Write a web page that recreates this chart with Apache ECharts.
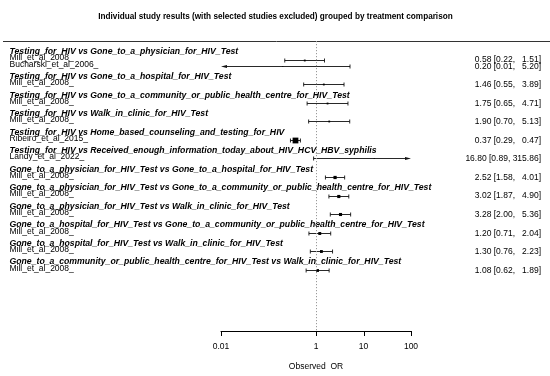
<!DOCTYPE html>
<html><head><meta charset="utf-8">
<script src="https://cdn.jsdelivr.net/npm/echarts@6/dist/echarts.min.js"></script>
<style>html,body{margin:0;padding:0;background:#fff}#c{width:550px;height:376px}</style>
</head><body><div id="c"></div>
<script>
const titleText = "Individual study results (with selected studies excluded) grouped by treatment comparison";
const comparisons = [
  "Testing_for_HIV vs Gone_to_a_physician_for_HIV_Test",
  "Testing_for_HIV vs Gone_to_a_hospital_for_HIV_Test",
  "Testing_for_HIV vs Gone_to_a_community_or_public_health_centre_for_HIV_Test",
  "Testing_for_HIV vs Walk_in_clinic_for_HIV_Test",
  "Testing_for_HIV vs Home_based_counseling_and_testing_for_HIV",
  "Testing_for_HIV vs Received_enough_information_today_about_HIV_HCV_HBV_syphilis",
  "Gone_to_a_physician_for_HIV_Test vs Gone_to_a_hospital_for_HIV_Test",
  "Gone_to_a_physician_for_HIV_Test vs Gone_to_a_community_or_public_health_centre_for_HIV_Test",
  "Gone_to_a_physician_for_HIV_Test vs Walk_in_clinic_for_HIV_Test",
  "Gone_to_a_hospital_for_HIV_Test vs Gone_to_a_community_or_public_health_centre_for_HIV_Test",
  "Gone_to_a_hospital_for_HIV_Test vs Walk_in_clinic_for_HIV_Test",
  "Gone_to_a_community_or_public_health_centre_for_HIV_Test vs Walk_in_clinic_for_HIV_Test"
];
const studyNames = ["Mill_et_al_2008_","Bucharski_et_al_2006_","Mill_et_al_2008_","Mill_et_al_2008_","Mill_et_al_2008_",
  "Ribeiro_et_al_2015_","Landy_et_al_2022_","Mill_et_al_2008_","Mill_et_al_2008_","Mill_et_al_2008_",
  "Mill_et_al_2008_","Mill_et_al_2008_","Mill_et_al_2008_"];
const studyGroup = [0,0,1,2,3,4,5,6,7,8,9,10,11];
const oddsRatio = [0.58,0.20,1.46,1.75,1.90,0.37,16.80,2.52,3.02,3.28,1.20,1.30,1.08];
const ciLower   = [0.22,0.01,0.55,0.65,0.70,0.29,0.89,1.58,1.87,2.00,0.71,0.76,0.62];
const ciUpper   = [1.51,5.20,3.89,4.71,5.13,0.47,315.86,4.01,4.90,5.36,2.04,2.23,1.89];
const tickValues = [0.01, 1, 10, 100];
const tickLabels = ["0.01", "1", "10", "100"];
const axisTitle = "Observed  OR";

// ---- layout (rows) ----
const X_MIN = 0.01, X_MAX = 100;
const headerRows = [], studyRows = [];
let r = 0;
comparisons.forEach((c, g) => {
  headerRows.push(r); r++;
  studyGroup.forEach((sg, i) => { if (sg === g) { studyRows[i] = r; r++; } });
  r++;
});
const Y_TOP = -2, Y_BOT = 44.9;
const FONT = '"Liberation Sans", Arial, Helvetica, sans-serif';
const LABEL_X = 9.5, RIGHT_X = 541, LABEL_DY = -1.5;

function fmt(v, w) { let s = v.toFixed(2); while (s.length < w) s = ' ' + s; return s; }
const lowW = Math.max(...ciLower.map(v => v.toFixed(2).length));
const upW = Math.max(...ciUpper.map(v => v.toFixed(2).length));

const studyData = oddsRatio.map((v, i) => [v, studyRows[i], ciLower[i], ciUpper[i], i]);
const headerData = comparisons.map((c, g) => [1, headerRows[g], g]);

const chart = echarts.init(document.getElementById('c'), null, {renderer: 'canvas'});
chart.setOption({
  animation: false,
  backgroundColor: '#fff',
  title: {
    text: titleText, left: 270.5, top: 8, textAlign: 'center',
    textStyle: {fontFamily: FONT, fontSize: 8.2, fontWeight: 'bold', color: '#000'}
  },
  grid: {left: 221, right: 139, top: 41, bottom: 38.5, containLabel: false},
  xAxis: {
    type: 'log', logBase: 10, min: X_MIN, max: X_MAX,
    axisLine: {show: true, onZero: false, lineStyle: {color: '#000', width: 1}},
    axisTick: {show: false}, axisLabel: {show: false}, splitLine: {show: false},
    name: axisTitle, nameLocation: 'middle', nameGap: 31,
    nameTextStyle: {fontFamily: FONT, fontSize: 8.5, color: '#000'}
  },
  yAxis: {
    type: 'value', min: Y_TOP, max: Y_BOT, inverse: true, show: false
  },
  series: [
    { // reference line at OR = 1
      type: 'line', data: [], silent: true,
      markLine: {
        silent: true, symbol: 'none', label: {show: false},
        lineStyle: {type: [1.2, 1.8], color: '#9a9a9a', width: 1},
        data: [{xAxis: 1}]
      }
    },
    { // top separator line
      type: 'custom', clip: false, silent: true, data: [[1, Y_TOP]],
      renderItem: (params, api) => {
        const y = Math.round(api.coord([1, Y_TOP])[1]) + 0.5;
        return {type: 'line', shape: {x1: 3, y1: y, x2: 550, y2: y}, style: {stroke: '#333', lineWidth: 1}};
      }
    },
    { // axis ticks & labels
      type: 'custom', clip: false, silent: true,
      data: tickValues.map((v, i) => [v, Y_BOT, i]),
      renderItem: (params, api) => {
        const p = api.coord([api.value(0), Y_BOT]);
        const x = Math.round(p[0]) + 0.5;
        return {type: 'group', children: [
          {type: 'line', shape: {x1: x, y1: p[1], x2: x, y2: p[1] + 5}, style: {stroke: '#000', lineWidth: 1}},
          {type: 'text', style: {text: tickLabels[api.value(2)], x: p[0], y: p[1] + 15.5, align: 'center', verticalAlign: 'middle',
            font: '8.5px ' + FONT, fill: '#000'}}
        ]};
      }
    },
    { // comparison headers
      type: 'custom', clip: false, silent: true, data: headerData,
      renderItem: (params, api) => {
        const p = api.coord([1, api.value(1)]);
        return {type: 'text', style: {text: comparisons[api.value(2)], x: LABEL_X, y: p[1] + LABEL_DY,
          align: 'left', verticalAlign: 'middle', font: 'italic bold 8.7px ' + FONT, fill: '#000'}};
      }
    },
    { // studies
      type: 'custom', clip: false, silent: true, data: studyData,
      renderItem: (params, api) => {
        const est = api.value(0), row = api.value(1), lo = api.value(2), hi = api.value(3), i = api.value(4);
        const pe = api.coord([est, row]);
        const y = Math.round(pe[1]) + 0.5;
        const xl = api.coord([Math.max(lo, X_MIN), row])[0];
        const xh = api.coord([Math.min(hi, X_MAX), row])[0];
        const col = '#111';
        const ch = [];
        const lineX1 = lo <= X_MIN ? xl + 5 : xl, lineX2 = hi >= X_MAX ? xh - 5 : xh;
        ch.push({type: 'line', shape: {x1: lineX1, y1: y, x2: lineX2, y2: y}, style: {stroke: col, lineWidth: 0.9}});
        if (lo <= X_MIN) {
          ch.push({type: 'polygon', shape: {points: [[xl, y], [xl + 6, y - 1.6], [xl + 6, y + 1.6]]}, style: {fill: col}});
        } else {
          ch.push({type: 'line', shape: {x1: xl, y1: y - 2, x2: xl, y2: y + 2}, style: {stroke: col, lineWidth: 0.9}});
        }
        if (hi >= X_MAX) {
          ch.push({type: 'polygon', shape: {points: [[xh, y], [xh - 6, y - 1.6], [xh - 6, y + 1.6]]}, style: {fill: col}});
        } else {
          ch.push({type: 'line', shape: {x1: xh, y1: y - 2, x2: xh, y2: y + 2}, style: {stroke: col, lineWidth: 0.9}});
        }
        const se = (Math.log(hi) - Math.log(lo)) / 3.92;
        const s = 0.5 + 0.65 / se;
        ch.push({type: 'rect', shape: {x: pe[0] - s / 2, y: y - s / 2, width: s, height: s}, style: {fill: '#000'}});
        ch.push({type: 'text', style: {text: studyNames[i], x: LABEL_X, y: pe[1] + LABEL_DY, align: 'left', verticalAlign: 'middle',
          font: '8.5px ' + FONT, fill: '#000'}});
        const txt = est.toFixed(2) + ' [' + fmt(lo, lowW) + ', ' + fmt(hi, upW) + ']';
        ch.push({type: 'text', style: {text: txt, x: RIGHT_X, y: pe[1] + 0.5, align: 'right', verticalAlign: 'middle',
          font: '8.5px ' + FONT, fill: '#000'}});
        return {type: 'group', children: ch};
      }
    }
  ]
});
</script></body></html>
